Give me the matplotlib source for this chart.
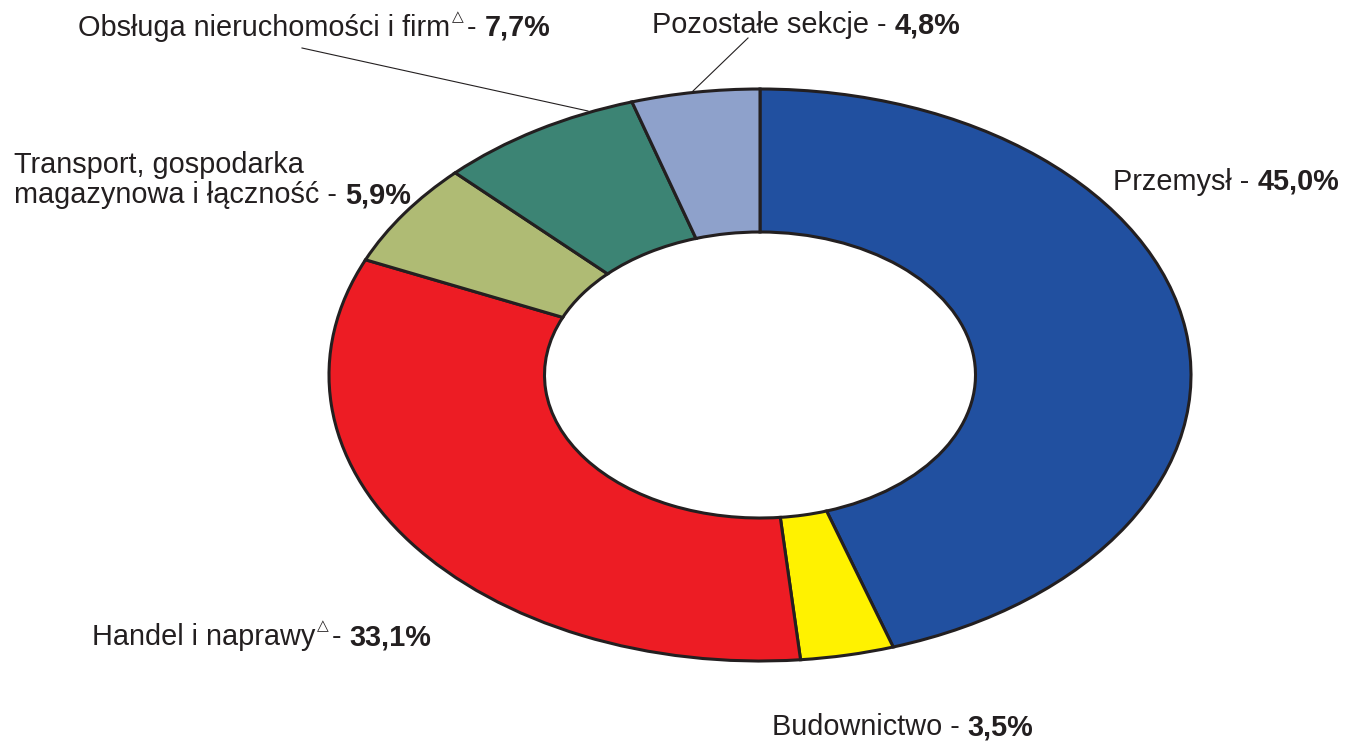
import matplotlib
matplotlib.use("Agg")
import matplotlib.pyplot as plt

plt.rcParams["font.family"] = ["Liberation Sans", "DejaVu Sans"]

# data: sectors, clockwise from the top
sectors = ["Przemysł", "Budownictwo", "Handel i naprawy", "Transport",
           "Obsługa nieruchomości i firm", "Pozostałe sekcje"]
shares = [45.0, 3.5, 33.1, 5.9, 7.7, 4.8]
colors = ["#2150a0", "#fff200", "#ed1c24", "#afbb74", "#3c8474", "#8ea1cb"]

TXT = "#231f20"
W, H = 1348, 743
fig = plt.figure(figsize=(W / 100, H / 100), dpi=100)

# pie axes stretched into an ellipse
ax = fig.add_axes([329 / W, 1 - 661 / H, 862 / W, 572 / H])
ax.pie(shares, colors=colors, startangle=90, counterclock=False, radius=1.0,
       wedgeprops=dict(width=0.5, edgecolor=TXT, linewidth=2.2))
ax.set_aspect("auto")
ax.set_xlim(-1, 1)
ax.set_ylim(-1, 1)
ax.axis("off")

renderer = fig.canvas.get_renderer()
fs = 20.8


def put(x, y, s, **kw):
    # place text at pixel pos, return right edge in pixels
    t = fig.text(x / W, 1 - y / H, s, color=TXT, va="center", ha="left", **kw)
    return t.get_window_extent(renderer).x1


def label(x, y, name, pct, sup=False):
    if sup:
        x1 = put(x, y, name, fontsize=fs)
        x1 = put(x1 + 2, y - 11, "△", fontsize=11, family=["DejaVu Sans"])
        x1 = put(x1 + 3, y, "- ", fontsize=fs)
    else:
        x1 = put(x, y, name + " - ", fontsize=fs)
    put(x1, y, pct, fontsize=fs, weight="bold")


pcts = [f"{v:.1f}%".replace(".", ",") for v in shares]

label(1113, 182, "Przemysł", pcts[0])
label(772, 727, "Budownictwo", pcts[1])
label(92, 637, "Handel i naprawy", pcts[2], sup=True)
put(14, 165, "Transport, gospodarka", fontsize=fs)
label(14, 195, "magazynowa i łączność", pcts[3])
label(78, 28, "Obsługa nieruchomości i firm", pcts[4], sup=True)
label(652, 25, "Pozostałe sekcje", pcts[5])

# leader lines
for (xa, ya), (xb, yb) in [((302, 48), (588, 111)), ((748, 38), (693, 91))]:
    fig.add_artist(plt.Line2D([xa / W, xb / W], [1 - ya / H, 1 - yb / H],
                              color=TXT, lw=0.8))

fig.savefig("out.png", dpi=100, facecolor="white")
